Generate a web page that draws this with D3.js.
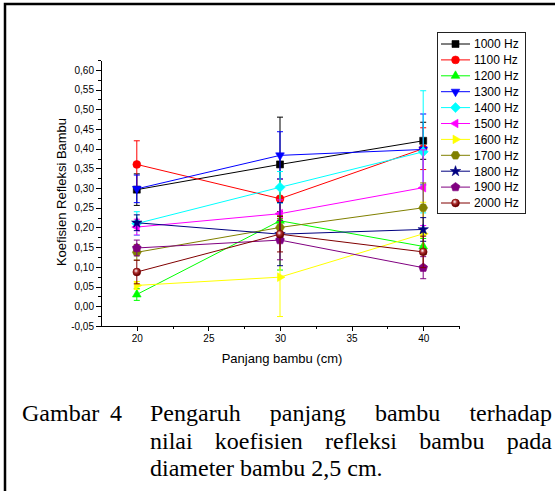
<!DOCTYPE html>
<html>
<head>
<meta charset="utf-8">
<script src="https://cdn.jsdelivr.net/npm/d3@7"></script>
<style>
  html, body { margin: 0; padding: 0; background: #fff; }
  svg { display: block; }
  .axis text { font-family: "Liberation Sans", Arial, sans-serif; font-size: 10px; fill: #000; }
  .axis path, .axis line { stroke: #000; stroke-width: 1; shape-rendering: crispEdges; }
</style>
</head>
<body>
<svg id="chart" width="555" height="491"></svg>
<script>
// ── data (koefisien refleksi vs panjang bambu) ──
const lengths = [20, 30, 40];
const seriesNames = ['1000 Hz', '1100 Hz', '1200 Hz', '1300 Hz', '1400 Hz', '1500 Hz',
  '1600 Hz', '1700 Hz', '1800 Hz', '1900 Hz', '2000 Hz'];
const values = [
  [0.296, 0.360, 0.420],
  [0.360, 0.273, 0.400],
  [0.030, 0.217, 0.152],
  [0.298, 0.383, 0.398],
  [0.210, 0.302, 0.392],
  [0.201, 0.235, 0.301],
  [0.053, 0.074, 0.184],
  [0.137, 0.200, 0.250],
  [0.212, 0.183, 0.195],
  [0.148, 0.168, 0.098],
  [0.087, 0.183, 0.138],
];
const errors = [
  [0.040, 0.120, 0.047],
  [0.060, 0.050, 0.053],
  [0.015, 0.125, 0.020],
  [0.035, 0.060, 0.090],
  [0.030, 0.040, 0.155],
  [0.020, 0.035, 0.096],
  [0.010, 0.100, 0.080],
  [0.020, 0.030, 0.063],
  [0.020, 0.080, 0.030],
  [0.020, 0.050, 0.028],
  [0.030, 0.045, 0.040],
];
const yTicks = [-0.05, 0, 0.05, 0.10, 0.15, 0.20, 0.25, 0.30, 0.35, 0.40, 0.45, 0.50, 0.55, 0.60];
const xTicks = [20, 25, 30, 35, 40];
const captionLines = [
  ['Pengaruh', 'panjang', 'bambu', 'terhadap'],
  ['nilai', 'koefisien', 'refleksi', 'bambu', 'pada'],
  ['diameter bambu 2,5 cm.'],
];

// Origin default colour + symbol cycle
const colors = ['#000000', '#ff0000', '#00ff00', '#0000ff', '#00ffff', '#ff00ff',
  '#ffff00', '#808000', '#000080', '#800080', '#800000'];
const shapes = ['square', 'circle', 'up', 'down', 'diamond', 'left', 'right',
  'hexagon', 'star', 'pentagon', 'sphere'];

const svg = d3.select('#chart');

// outer frame (only left + top edges fall inside the picture)
svg.append('path')
  .attr('d', 'M5,491V4H555')
  .attr('fill', 'none').attr('stroke', '#000').attr('stroke-width', 2.5);

const x = d3.scaleLinear().domain([17.5, 42.5]).range([101, 459]);
const y = d3.scaleLinear().domain([-0.05, 0.625]).range([326, 60]);

const fmt = (v) => d3.format('.2f')(v).replace('.', ',').replace('−', '-');

// minor ticks first, then majors with labels
svg.append('g').attr('class', 'axis')
  .attr('transform', 'translate(101,0)')
  .call(d3.axisLeft(y).tickValues(d3.range(-0.025, 0.63, 0.05)).tickSize(3).tickFormat(''))
  .call((g) => g.select('.domain').remove());
svg.append('g').attr('class', 'axis')
  .attr('transform', 'translate(101,0)')
  .call(d3.axisLeft(y).tickValues(yTicks).tickSize(5).tickSizeOuter(0).tickPadding(2).tickFormat(fmt));

svg.append('g').attr('class', 'axis')
  .attr('transform', 'translate(0,326)')
  .call(d3.axisBottom(x).tickValues(d3.range(22.5, 42.6, 5)).tickSize(3).tickFormat(''))
  .call((g) => g.select('.domain').remove());
svg.append('g').attr('class', 'axis')
  .attr('transform', 'translate(0,326)')
  .call(d3.axisBottom(x).tickValues(xTicks).tickSize(5).tickSizeOuter(0).tickPadding(4).tickFormat(d3.format('d')));

// axis titles
svg.append('text')
  .attr('transform', 'translate(66,192) rotate(-90)')
  .attr('text-anchor', 'middle')
  .style('font-family', '"Liberation Sans", Arial, sans-serif')
  .style('font-size', '13px')
  .text('Koefisien Refleksi Bambu');
svg.append('text')
  .attr('x', 282).attr('y', 363)
  .attr('text-anchor', 'middle')
  .style('font-family', '"Liberation Sans", Arial, sans-serif')
  .style('font-size', '13px')
  .text('Panjang bambu (cm)');

// symbol paths, r ≈ half size in px
function poly(n, r, rot) {
  const pts = d3.range(n).map((i) => {
    const a = rot + i * 2 * Math.PI / n;
    return [r * Math.sin(a), -r * Math.cos(a)];
  });
  return 'M' + pts.map((p) => p.join(',')).join('L') + 'Z';
}
function symbolPath(shape) {
  switch (shape) {
    case 'square': return 'M-3.5,-3.5H3.5V3.5H-3.5Z';
    case 'circle':
    case 'sphere': return d3.symbol(d3.symbolCircle, 48)();
    case 'up': return poly(3, 5, 0);
    case 'down': return poly(3, 5, Math.PI);
    case 'left': return poly(3, 5, -Math.PI / 2);
    case 'right': return poly(3, 5, Math.PI / 2);
    case 'diamond': return poly(4, 5, 0);
    case 'hexagon': return poly(6, 4.4, Math.PI / 6);
    case 'pentagon': return poly(5, 4.6, 0);
    case 'star': return d3.symbol(d3.symbolStar, 34)();
  }
}

const defs = svg.append('defs');
const grad = defs.append('radialGradient').attr('id', 'sphere')
  .attr('cx', '40%').attr('cy', '35%').attr('r', '60%');
grad.append('stop').attr('offset', '0%').attr('stop-color', '#ffffff');
grad.append('stop').attr('offset', '45%').attr('stop-color', '#b03030');
grad.append('stop').attr('offset', '100%').attr('stop-color', '#600000');

const line = d3.line().x((d) => x(d[0])).y((d) => y(d[1]));
const plot = svg.append('g');

seriesNames.forEach((name, s) => {
  const c = colors[s];
  const pts = lengths.map((l, i) => [l, values[s][i], errors[s][i]]);
  const g = plot.append('g');
  // error bars
  pts.forEach((p) => {
    const cx = x(p[0]);
    const y0 = y(p[1] - p[2]), y1 = y(p[1] + p[2]);
    g.append('path')
      .attr('d', `M${cx},${y0}V${y1}M${cx - 3},${y0}H${cx + 3}M${cx - 3},${y1}H${cx + 3}`)
      .attr('fill', 'none').attr('stroke', c).attr('stroke-width', 1);
  });
  g.append('path').datum(pts).attr('d', line)
    .attr('fill', 'none').attr('stroke', c).attr('stroke-width', 1);
  g.selectAll('.m').data(pts).enter().append('path')
    .attr('transform', (d) => `translate(${x(d[0])},${y(d[1])})`)
    .attr('d', symbolPath(shapes[s]))
    .attr('fill', shapes[s] === 'sphere' ? 'url(#sphere)' : c)
    .attr('stroke', c).attr('stroke-width', 0.6);
});

// legend
const lg = svg.append('g');
lg.append('rect').attr('x', 437.5).attr('y', 32.5).attr('width', 88).attr('height', 181)
  .attr('fill', '#fff').attr('stroke', '#222').attr('stroke-width', 1);
seriesNames.forEach((name, s) => {
  const yy = 44 + s * 15.9;
  lg.append('line').attr('x1', 441).attr('x2', 470).attr('y1', yy).attr('y2', yy)
    .attr('stroke', colors[s]).attr('stroke-width', 1);
  lg.append('path').attr('transform', `translate(455.5,${yy})`)
    .attr('d', symbolPath(shapes[s]))
    .attr('fill', shapes[s] === 'sphere' ? 'url(#sphere)' : colors[s])
    .attr('stroke', colors[s]).attr('stroke-width', 0.6);
  lg.append('text').attr('x', 474).attr('y', yy + 4.3)
    .style('font-family', '"Liberation Sans", Arial, sans-serif')
    .style('font-size', '12px')
    .text(name);
});

// caption, justified like the source document
const cap = svg.append('g')
  .style('font-family', '"Liberation Serif", "Times New Roman", serif')
  .style('font-size', '24px');
cap.append('text').attr('x', 22).attr('y', 421).text('Gambar');
cap.append('text').attr('x', 110).attr('y', 421).text('4');
const baselines = [421, 448.5, 476];
captionLines.forEach((words, li) => {
  const nodes = words.map((w) => cap.append('text').attr('y', baselines[li]).text(w));
  const widths = nodes.map((n) => n.node().getComputedTextLength());
  const left = 150, right = 552;
  if (li === captionLines.length - 1) { nodes[0].attr('x', left); return; }
  const gap = (right - left - d3.sum(widths)) / (words.length - 1);
  let cx = left;
  nodes.forEach((n, i) => { n.attr('x', cx); cx += widths[i] + gap; });
});
</script>
</body>
</html>
